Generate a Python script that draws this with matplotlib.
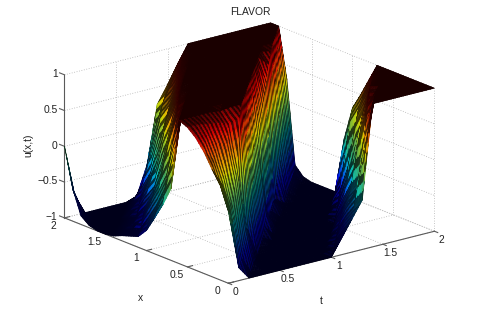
import numpy as np
import matplotlib
matplotlib.use("Agg")
import matplotlib.pyplot as plt
from mpl_toolkits.mplot3d import proj3d
from mpl_toolkits.mplot3d.art3d import Poly3DCollection

plt.rcParams['font.family'] = ['Liberation Sans', 'DejaVu Sans']

x_values = [0, .1, .2, .3, .4, .5, .6, .7, .8, .9, 1, 1.1, 1.2, 1.3, 1.4, 1.5, 1.6, 1.7, 1.8, 1.9, 2]
t_values = [0, .1, .2, .3, .4, .5, .6, .7, .8, .9, 1, 1.1, 1.2, 1.3, 1.4, 1.5, 1.6, 1.7, 1.8, 1.9, 2]

u_t00 = [0, .32, .5, .7, .85, .95, 1, 0, -.27, -.5, -.72, -.85, -.89, -.93, -.98, -1, -1, -.97, -.88, -.55, 0]
u_t01 = [-.82, -.1, .25, .55, .8, .95, 1, 1, .35, -.15, -.43, -.65, -.85, -.89, -.93, -.98, -1, -1, -.98, -.9, -.72]
u_t02 = [-1, -.75, -.1, .35, .7, .92, 1, 1, 1, .62, 0, -.28, -.52, -.77, -.87, -.93, -.99, -1, -1, -1, -1]
u_t03 = [-1, -1, -.6, .15, .65, .9, 1, 1, 1, 1, .75, .33, -.17, -.5, -.71, -.87, -.93, -.99, -1, -1, -1]
u_t04 = [-1, -1, -.95, -.5, .3, .85, .98, 1, 1, 1, 1, .88, .45, 0, -.42, -.6, -.82, -.91, -1, -1, -1]
u_t05 = [-1, -1, -1, -.98, -.6, .9, 1, 1, 1, 1, 1, 1, .96, .6, .3, -.2, -.51, -.77, -.9, -1, -1]
u_t06 = [-1, -1, -1, -1, -1, -.35, 1, 1, 1, 1, 1, 1, 1, 1, .7, .4, 0, -.44, -.68, -.9, -1]
u_t07 = [-1, -1, -1, -1, -1, -.97, -.2, 1, 1, 1, 1, 1, 1, 1, 1, .78, .48, .28, -.2, -.7, -.95]
u_t08 = [-1, -1, -1, -1, -1, -1, -.93, -.15, 1, 1, 1, 1, 1, 1, 1, 1, .82, .57, .4, 0, -.55]
u_t09 = [-1, -1, -1, -1, -1, -1, -1, -.85, -.01, 1, 1, 1, 1, 1, 1, 1, 1, .9, .68, .43, .26]
u_t10 = [-1, -1, -1, -1, -1, -1, -1, -1, -.75, .1, 1, 1, 1, 1, 1, 1, 1, 1, .93, .72, .5]
u_t11 = [-.77, -.97, -1, -1, -1, -1, -1, -1, -1, -.9, .33, 1, 1, 1, 1, 1, 1, 1, 1, .97, .76]
u_t12 = [-.54, -.72, -.93, -1, -1, -1, -1, -1, -1, -1, -.88, .45, 1, 1, 1, 1, 1, 1, 1, 1, 1]
u_t13 = [-.31, -.47, -.65, -.87, -1, -1, -1, -1, -1, -1, -1, -.83, .6, 1, 1, 1, 1, 1, 1, 1, 1]
u_t14 = [1, .25, -.35, -.55, -.8, -1, -1, -1, -1, -1, -1, -.98, -.88, .72, 1, 1, 1, 1, 1, 1, 1]
u_t15 = [1, 1, .6, -.3, -.47, -.74, -1, -1, -1, -1, -1, -1, -.97, -.62, .87, 1, 1, 1, 1, 1, 1]
u_t16 = [1, 1, 1, .8, .3, -.38, -.65, -.96, -1, -1, -1, -1, -1, -.93, -.4, .97, 1, 1, 1, 1, 1]
u_t17 = [1, 1, 1, 1, .95, .47, -.08, -.52, -.88, -1, -1, -1, -1, -1, -.9, -.2, 1, 1, 1, 1, 1]
u_t18 = [1, 1, 1, 1, 1, .95, .56, .29, -.38, -.77, -1, -1, -1, -1, -1, -.88, -.03, 1, 1, 1, 1]
u_t19 = [1, 1, 1, 1, 1, 1, .97, .67, .38, .15, -.63, -1, -1, -1, -1, -1, -.87, .12, 1, 1, 1]
u_t20 = [1, 1, 1, 1, 1, 1, 1, 1, .75, .5, .27, -.2, -1, -1, -1, -1, -.97, -.85, .3, 1, 1]

x_ticks = [0, .5, 1, 1.5, 2]
t_ticks = [0, .5, 1, 1.5, 2]
z_ticks = [-1, -.5, 0, .5, 1]
x_labels = ['0', '0.5', '1', '1.5', '2']
t_labels = ['0', '0.5', '1', '1.5', '2']
z_labels = ['\u22121', '\u22120.5', '0', '0.5', '1']

U = np.array([u_t00, u_t01, u_t02, u_t03, u_t04, u_t05, u_t06, u_t07, u_t08, u_t09, u_t10,
              u_t11, u_t12, u_t13, u_t14, u_t15, u_t16, u_t17, u_t18, u_t19, u_t20])
T, X = np.meshgrid(t_values, x_values, indexing='ij')

W, H = 482, 320
fig = plt.figure(figsize=(W / 100, H / 100), dpi=100, facecolor='white')
S = 390
ax = fig.add_axes([49.2 / W, -33.3 / H, S / W, S / H], projection='3d')
ax.set_proj_type('ortho')
ax.set_box_aspect((1, 1, .573))
ax.view_init(elev=18.5, azim=231.5)
ax.set_xlim(0, 2, view_margin=0)
ax.set_ylim(0, 2, view_margin=0)
ax.set_zlim(-1, 1, view_margin=0)
ax.set_axis_off()
ax.computed_zorder = False
ax.patch.set_alpha(0)

grid = dict(color='#b4b4b4', lw=.6, ls=(0, (1, 2)), zorder=1)
for z in z_ticks:
    ax.plot([0, 2], [2, 2], [z, z], **grid)
    ax.plot([2, 2], [2, 0], [z, z], **grid)
for t in t_ticks:
    ax.plot([t, t], [2, 2], [-1, 1], **grid)
    ax.plot([t, t], [0, 2], [-1, -1], **grid)
for x in x_ticks:
    ax.plot([2, 2], [x, x], [-1, 1], **grid)
    ax.plot([0, 2], [x, x], [-1, -1], **grid)

axis = dict(color='#5a5a5a', lw=.8, zorder=1.5)
ax.plot([0, 0], [0, 2], [-1, -1], **axis)
ax.plot([0, 2], [0, 0], [-1, -1], **axis)
ax.plot([0, 0], [2, 2], [-1, 1], **axis)
for x in x_ticks:
    ax.plot([0, .05], [x, x], [-1, -1], **axis)
for t in t_ticks:
    ax.plot([t, t], [0, -.04], [-1, -1], **axis)
for z in z_ticks:
    ax.plot([0, 0], [2, 2.06], [z, z], **axis)

M = ax.get_proj()

# triangles split along the direction the fronts travel
nt, nx = U.shape
tris = []
slopes = []
for i in range(nt - 1):
    for j in range(nx - 1):
        tris.append(((i, j), (i + 1, j), (i + 1, j + 1)))
        slopes.append(U[i + 1, j + 1] - U[i + 1, j])
        tris.append(((i, j), (i, j + 1), (i + 1, j + 1)))
        slopes.append(U[i, j + 1] - U[i, j])
slopes = np.array(slopes)
verts = np.array([[(T[p], X[p], U[p]) for p in tri] for tri in tris])
qx, qy, _ = proj3d.proj_transform(verts[..., 0].ravel(), verts[..., 1].ravel(), verts[..., 2].ravel(), M)
qx = qx.reshape(-1, 3)
qy = qy.reshape(-1, 3)
area = .5 * np.abs((qx[:, 1] - qx[:, 0]) * (qy[:, 2] - qy[:, 0]) - (qx[:, 2] - qx[:, 0]) * (qy[:, 1] - qy[:, 0]))
A0 = np.median(area)
# brightness follows the projected cell size, as a dense black mesh does
bright = np.clip(.2 + .65 * (area / A0 - 1) / 1.6, .2, .9)

# each flat facet is cut into small pieces of the same plane, for shading only
n = 5
wts = []
for a in range(n):
    for b in range(n - a):
        wts.append([(a, b), (a + 1, b), (a, b + 1)])
        if a + b < n - 1:
            wts.append([(a + 1, b), (a + 1, b + 1), (a, b + 1)])
wts = np.array(wts, dtype=float) / n
v0, v1, v2 = verts[:, 0], verts[:, 1], verts[:, 2]
pieces = (v0[:, None, None, :]
          + wts[None, :, :, 0, None] * (v1 - v0)[:, None, None, :]
          + wts[None, :, :, 1, None] * (v2 - v0)[:, None, None, :])
nw = pieces.shape[1]
pieces = pieces.reshape(-1, 3, 3)
bri = np.repeat(bright, nw)
slp = np.repeat(slopes, nw)
zc = pieces[:, :, 2].mean(axis=1)
tc_ = pieces[:, :, 0].mean(axis=1)
stripe = np.floor(tc_ * 50 + 1e-6) % 2
factor = 1 - stripe * .7 * np.clip((bri - .2) / .3, 0, 1)
# dimmer greens, dim foot of the falling wall, dim crest of the rising walls
dim = 1 - .3 * np.clip(1 - np.abs(zc + .05) / .45, 0, 1)
dim = np.where(slp > 0, dim * (1 - .5 * np.clip((.1 - zc) / .4, 0, 1)), dim * (1 - .6 * np.clip((zc - .5) / .3, 0, 1)))
fc = plt.get_cmap('jet')((zc + 1) / 2)
fc[:, :3] *= np.maximum(bri * factor * dim, .2)[:, None]
surf = Poly3DCollection(pieces, facecolors=fc, edgecolors=fc, linewidths=.45, zorder=3)
ax.add_collection3d(surf)

fs = 7.4
tc = '#222222'
def label3d(t, x, z, s, ha):
    a, b, _ = proj3d.proj_transform(t, x, z, M)
    ax.text2D(a, b, s, transform=ax.transData, ha=ha, va='center', fontsize=fs, color=tc, zorder=5)
for x, lab in zip(x_ticks, x_labels):
    label3d(-.105, x, -1.07, lab, 'center')
for t, lab in zip(t_ticks, t_labels):
    label3d(t, -.09, -1.083, lab, 'center')
for z, lab in zip(z_ticks, z_labels):
    label3d(-.067, 2, z + .035, lab, 'right')

fig.text(250 / W, 1 - 12 / H, 'FLAVOR', ha='center', va='center', fontsize=fs, color=tc)
fig.text(140 / W, 1 - 298 / H, 'x', ha='center', va='center', fontsize=fs, color=tc)
fig.text(321 / W, 1 - 301 / H, 't', ha='center', va='center', fontsize=fs, color=tc)
fig.text(28 / W, 1 - 145 / H, 'u(x,t)', ha='center', va='center', rotation=90, fontsize=fs, color=tc)

fig.savefig('out.png', dpi=100, facecolor='white')
